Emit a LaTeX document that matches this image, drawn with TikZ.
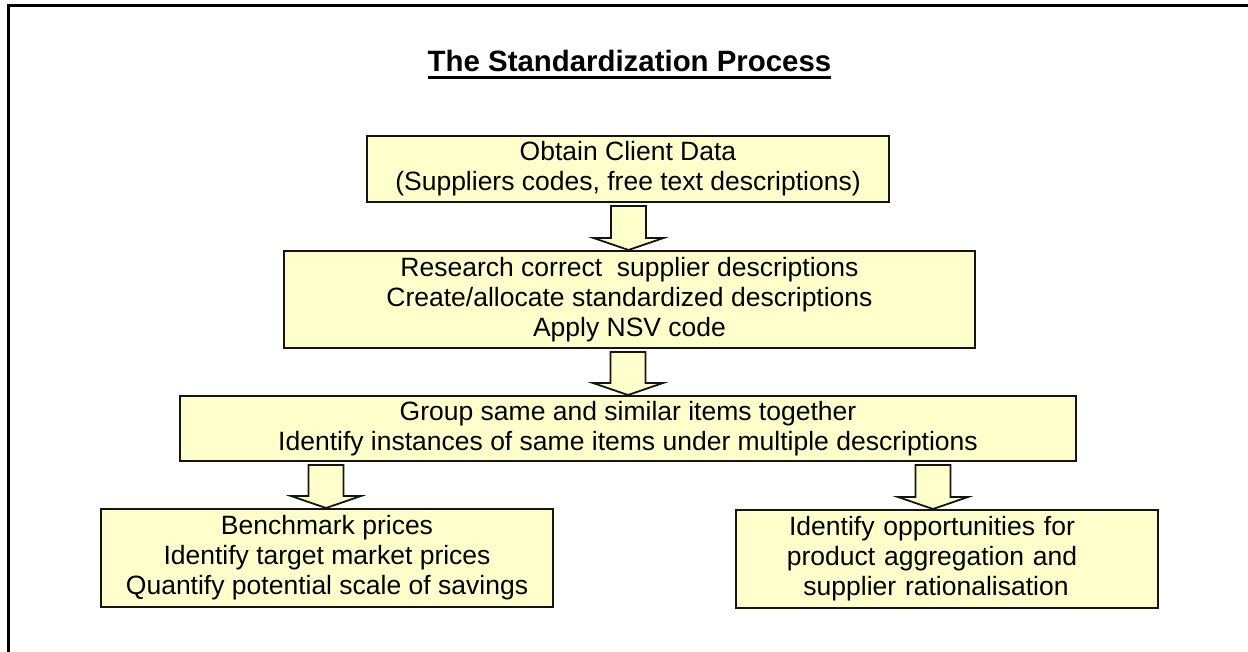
\documentclass[tikz,border=0pt]{standalone}
\usepackage{fontspec}
\setmainfont{Liberation Sans}
\usetikzlibrary{calc}
\definecolor{boxfill}{RGB}{255,255,204}
\definecolor{boxline}{RGB}{20,20,20}
\tikzset{
  box/.style={draw=boxline, fill=boxfill, line width=2pt, inner sep=0pt, align=center,
    font=\fontsize{26.5}{30}\selectfont},
  arrfill/.style={draw=boxline, fill=boxfill, line width=1.8pt, line join=miter},
  frame/.style={draw=black, line width=3.5pt}
}
\newcommand\blockarr[3]{%
  \path (#1 |- #2.south) coordinate (as) (#1 |- #3.north) coordinate (at);
  \draw[arrfill] ([xshift=-17.5pt,yshift=-3pt]as) -- ([xshift=17.5pt,yshift=-3pt]as)
    -- ([xshift=17.5pt,yshift=12pt]at) -- ([xshift=35pt,yshift=12pt]at) -- (at)
    -- ([xshift=-35pt,yshift=12pt]at) -- ([xshift=-17.5pt,yshift=12pt]at) -- cycle;}
\begin{document}
\begin{tikzpicture}[x=1pt,y=-1pt]
\useasboundingbox (0,0) rectangle (1248,652);
\fill[white] (0,0) rectangle (1248,652);
\draw[frame] (8.5,5.5) rectangle (1270,680);

\node[font=\fontsize{29.4}{34}\selectfont\bfseries, inner sep=0pt, anchor=base] (title) at (629.5,72) {The Standardization Process};
\draw[line width=2.6pt] ([yshift=-5.5pt]title.base west) -- ([yshift=-5.5pt]title.base east);

\node[box, minimum width=522, minimum height=66] (b1) at (628,169)
  {Obtain Client Data\\(Suppliers codes, free text descriptions)};
\node[box, minimum width=691, minimum height=97] (b2) at (629.5,299.5)
  {Research correct~ supplier descriptions\\Create/allocate standardized descriptions\\Apply NSV code};
\node[box, minimum width=896, minimum height=65] (b3) at (628,428.5)
  {Group same and similar items together\\Identify instances of same items under multiple descriptions};
\node[box, minimum width=452, minimum height=98] (b4) at (327,558)
  {Benchmark prices\\Identify target market prices\\Quantify potential scale of savings};
\node[box, minimum width=422, minimum height=98, text width=392pt, align=center] (b5) at (947,559)
  {\hspace*{-30pt}Identify opportunities for\hspace*{0pt}\\\hspace*{-30pt}product aggregation and\\\hspace*{-22pt}supplier rationalisation};

\coordinate (x1) at (628.5,0);
\coordinate (x2) at (628,0);
\coordinate (x3) at (326,0);
\coordinate (x4) at (933,0);
\blockarr{x1}{b1}{b2}
\blockarr{x2}{b2}{b3}
\blockarr{x3}{b3}{b4}
\blockarr{x4}{b3}{b5}
\end{tikzpicture}
\end{document}
